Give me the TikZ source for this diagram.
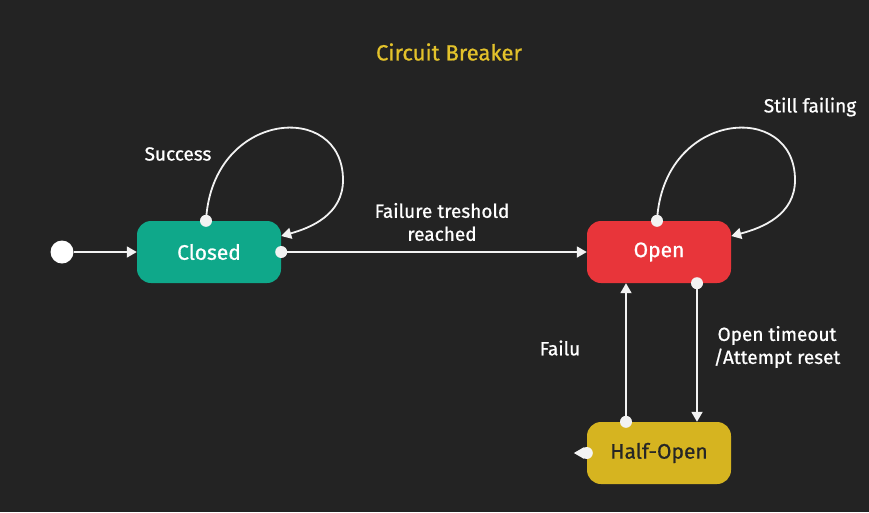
\documentclass[tikz,border=0pt]{standalone}
\usepackage{fontspec}
\setmainfont{Fira Sans}[RawFeature={embolden=0.8}]
\usetikzlibrary{arrows.meta}
\definecolor{bggrey}{HTML}{232323}
\definecolor{closedgreen}{HTML}{0FA88A}
\definecolor{openred}{HTML}{E8353A}
\definecolor{halfyellow}{HTML}{D6B420}
\definecolor{titleyellow}{HTML}{E3C22B}
\definecolor{wiregrey}{HTML}{F2F2F2}
\begin{document}
\begin{tikzpicture}[x=1pt, y=-1pt,
	state/.style={rounded corners=14pt, minimum width=144pt, minimum height=62pt, inner sep=0pt, font=\fontsize{21}{25}\selectfont},
	lbl/.style={text=white, font=\fontsize{19}{23}\selectfont, align=center},
	flow/.style={draw=wiregrey, line width=1.8pt, -{Triangle[length=10pt,width=11pt]}},
	enddot/.style={circle, fill=wiregrey, inner sep=0pt, minimum size=12pt}]
		\fill[bggrey] (0,0) rectangle (869,512);

		\node[text=titleyellow, font=\fontsize{22}{26}\selectfont] (title) at (449,52) {Circuit Breaker};

		\node[circle, fill=white, inner sep=0pt, minimum size=23pt] (start) at (62,252) {};
		\node[state, fill=closedgreen, text=white] (closed) at (209,252) {Closed};
		\node[state, fill=openred, text=white] (open) at (659,252) {Open};
		\node[state, fill=halfyellow, text=black!85] (half) at (659,453) {Half-Open};

		\node[lbl] (success) at (178,154) {Success};
		\node[lbl] (treshold) at (442,222) {Failure treshold\\reached};
		\node[lbl] (still) at (810,107) {Still failing};
		\node[lbl] (timeout) at (777,347) {Open timeout\\/Attempt reset};
		\node[lbl] (failu) at (560,348) {Failu};

		\coordinate (closedin) at ([yshift=16pt]closed.east);
		\coordinate (openin) at ([yshift=16pt]open.east);
		\coordinate (stub) at ([xshift=-13pt]half.west);

		% loops
		\draw[flow] ([xshift=-3pt]closed.north) .. controls (212,110) and (343,100) .. (343,180)
			.. controls (343,215) and (310,228) .. (closedin);
		\draw[flow] ([xshift=-2pt]open.north) .. controls (663,110) and (795,100) .. (795,180)
			.. controls (795,215) and (762,228) .. (openin);

		% straight transitions
		\path (start) edge[flow] (closed)
		(closed.east) edge[flow] (open.west)
		([xshift=38pt]open.south) edge[flow] ([xshift=38pt]half.north)
		([xshift=-33pt]half.north) edge[flow] ([xshift=-33pt]open.south)
		(half.west) edge[flow, draw=wiregrey!85] (stub);

		\node[enddot] (closeddot) at ([xshift=-3pt]closed.north) {};
		\node[enddot] (closedout) at (closed.east) {};
		\node[enddot] (opendot) at ([xshift=-2pt]open.north) {};
		\node[enddot] (openout) at ([xshift=38pt]open.south) {};
		\node[enddot] (halfout) at ([xshift=-33pt]half.north) {};
		\node[enddot, fill=wiregrey!85] (halfleft) at (half.west) {};
\end{tikzpicture}
\end{document}
